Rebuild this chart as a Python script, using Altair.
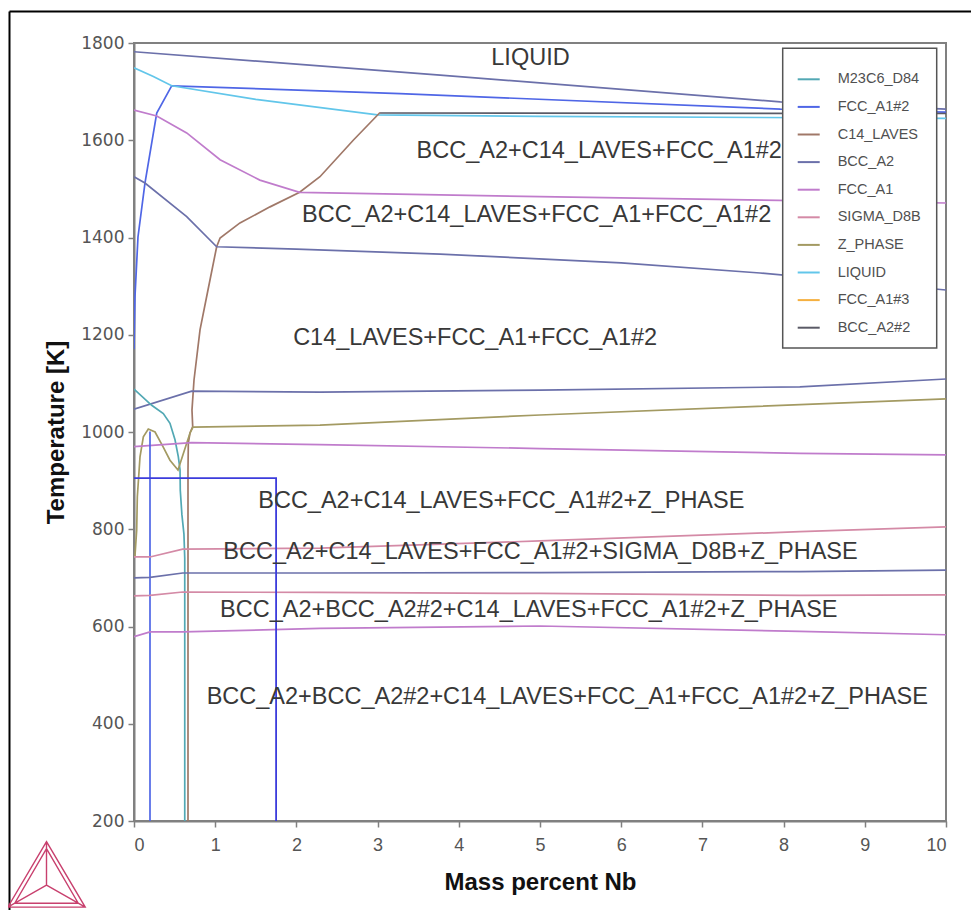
import altair as alt
import pandas as pd

# ---------------- data ----------------
PHASES = ["M23C6_D84", "FCC_A1#2", "C14_LAVES", "BCC_A2", "FCC_A1",
          "SIGMA_D8B", "Z_PHASE", "LIQUID", "FCC_A1#3", "BCC_A2#2"]
COLORS = ["#52a8b4", "#4f66e6", "#a07868", "#6b70aa", "#c07ccc",
          "#d48aa6", "#a39a62", "#62c6ea", "#f5b040", "#5a5a66"]

TOP_X = [0, 3.77, 7.96, 10]
TOP_T = [1782, 1734, 1679, 1664]

FCC2_TOP_X = [0.464, 3.276, 7.96, 10]
FCC2_TOP_T = [1712, 1696, 1664, 1658]

FCC2_LEFT_X = [0.464, 0.28, 0.135, 0.049, 0.012, 0]
FCC2_LEFT_T = [1712, 1656, 1512, 1401, 1278, 1170]

LIQ_X = [0, 0.238, 0.464, 1.5, 3.0, 5, 10]
LIQ_T = [1749, 1731, 1712, 1684, 1652, 1649, 1645]

BCC2_X = [3.03, 10]
BCC2_T = [1656, 1655]

C14_X = [3.03, 2.70, 2.29, 2.04, 1.675, 1.305, 1.06, 1.018, 0.911, 0.813,
         0.739, 0.714, 0.723, 0.69, 0.669, 0.665, 0.665]
C14_T = [1657, 1600, 1525, 1493, 1463, 1430, 1399, 1381, 1292, 1210,
         1107, 1045, 1011, 998, 977, 922, 200]

FCC1_UP_X = [0, 0.28, 0.649, 1.06, 1.55, 2.04, 5, 10]
FCC1_UP_T = [1662, 1650, 1615, 1560, 1518, 1493, 1484, 1471]

BCC_UP_X = [0, 0.135, 0.649, 1.018, 2, 3.77, 6, 7.71, 10]
BCC_UP_T = [1525, 1512, 1443, 1381, 1376, 1366, 1348, 1327, 1292]

BCC_MID_X = [0, 0.71, 2.29, 5, 8.2, 10]
BCC_MID_T = [1047, 1084, 1082, 1086, 1093, 1109]

M23_X = [0, 0.218, 0.361, 0.443, 0.505, 0.546, 0.567, 0.57, 0.59, 0.615, 0.625, 0.625]
M23_T = [1088, 1055, 1038, 1018, 984, 949, 922, 880, 830, 790, 740, 200]

Z_X = [0.012, 0.033, 0.041, 0.074, 0.115, 0.176, 0.259, 0.357, 0.443, 0.542,
       0.603, 0.69, 0.727, 2.29, 5, 10]
Z_T = [745, 798, 867, 949, 990, 1006, 1000, 970, 942, 922,
       953, 998, 1010, 1014, 1035, 1068]

FCC1_MID_X = [0, 0.71, 2.29, 5, 8.2, 10]
FCC1_MID_T = [970, 978, 974, 966, 956, 953]

FCC2_V_X = [0.197, 0.197]
FCC2_V_T = [1001, 200]

SIG_UP_X = [0, 0.197, 0.6, 2.29, 5, 8.2, 10]
SIG_UP_T = [743, 743, 759, 761, 776, 795, 805]

BCC_LOW_X = [0, 0.197, 0.6, 2.29, 5, 8.2, 10]
BCC_LOW_T = [700, 701, 710, 710, 711, 713, 716]

SIG_LOW_X = [0, 0.197, 0.6, 2.29, 5, 8.2, 10]
SIG_LOW_T = [663, 664, 671, 670, 668, 664, 665]

FCC1_LOW_X = [0, 0.197, 0.6, 2.29, 5, 8.2, 10]
FCC1_LOW_T = [579, 589, 589, 596, 601, 590, 583]

BOX_X = [0, 1.75, 1.75]
BOX_T = [905, 905, 200]

LABELS = ["LIQUID",
          "BCC_A2+C14_LAVES+FCC_A1#2",
          "BCC_A2+C14_LAVES+FCC_A1+FCC_A1#2",
          "C14_LAVES+FCC_A1+FCC_A1#2",
          "BCC_A2+C14_LAVES+FCC_A1#2+Z_PHASE",
          "BCC_A2+C14_LAVES+FCC_A1#2+SIGMA_D8B+Z_PHASE",
          "BCC_A2+BCC_A2#2+C14_LAVES+FCC_A1#2+Z_PHASE",
          "BCC_A2+BCC_A2#2+C14_LAVES+FCC_A1+FCC_A1#2+Z_PHASE"]
LABEL_X = [4.40, 3.48, 2.07, 1.96, 1.53, 1.10, 1.06, 0.895]
LABEL_T = [1769, 1577, 1446, 1193, 858, 753, 634, 454]

CURVES = [
    ("top", "BCC_A2", TOP_X, TOP_T),
    ("fcc2top", "FCC_A1#2", FCC2_TOP_X, FCC2_TOP_T),
    ("fcc2left", "FCC_A1#2", FCC2_LEFT_X, FCC2_LEFT_T),
    ("liq", "LIQUID", LIQ_X, LIQ_T),
    ("bcc2", "BCC_A2#2", BCC2_X, BCC2_T),
    ("c14", "C14_LAVES", C14_X, C14_T),
    ("fcc1up", "FCC_A1", FCC1_UP_X, FCC1_UP_T),
    ("bccup", "BCC_A2", BCC_UP_X, BCC_UP_T),
    ("bccmid", "BCC_A2", BCC_MID_X, BCC_MID_T),
    ("m23", "M23C6_D84", M23_X, M23_T),
    ("z", "Z_PHASE", Z_X, Z_T),
    ("fcc1mid", "FCC_A1", FCC1_MID_X, FCC1_MID_T),
    ("fcc2v", "FCC_A1#2", FCC2_V_X, FCC2_V_T),
    ("sigup", "SIGMA_D8B", SIG_UP_X, SIG_UP_T),
    ("bcclow", "BCC_A2", BCC_LOW_X, BCC_LOW_T),
    ("siglow", "SIGMA_D8B", SIG_LOW_X, SIG_LOW_T),
    ("fcc1low", "FCC_A1", FCC1_LOW_X, FCC1_LOW_T),
]

rows = []
for name, phase, xs, ts in CURVES:
    for i, (xv, tv) in enumerate(zip(xs, ts)):
        rows.append({"seg": name, "phase": phase, "i": i, "x": xv, "T": tv})
df = pd.DataFrame(rows)
box_df = pd.DataFrame({"i": range(len(BOX_X)), "x": BOX_X, "T": BOX_T})
lab_df = pd.DataFrame({"label": LABELS, "x": LABEL_X, "T": LABEL_T})
one = pd.DataFrame({"k": [0]})

FONT = "Liberation Sans"

xenc = alt.X("x:Q", scale=alt.Scale(domain=[0, 10], nice=False, zero=False),
             axis=alt.Axis(values=list(range(11)), format="d", title="Mass percent Nb",
                           grid=False, domainColor="#808080", domainWidth=2,
                           tickColor="#808080", tickWidth=1.5, tickSize=6,
                           labelColor="#555555", labelFont=FONT, labelFontSize=18,
                           labelPadding=9, titleFont=FONT, titleFontSize=24,
                           titleFontWeight="bold", titleColor="#111111", titlePadding=16))
yenc = alt.Y("T:Q", scale=alt.Scale(domain=[200, 1800], nice=False, zero=False),
             axis=alt.Axis(values=list(range(200, 1801, 200)), format="d",
                           title="Temperature [K]", grid=False,
                           domainColor="#808080", domainWidth=2, tickColor="#808080",
                           tickWidth=1.5, tickSize=6, labelColor="#555555",
                           labelFont="DejaVu Sans", labelFontSize=17, labelPadding=4,
                           titleFont=FONT, titleFontSize=24, titleFontWeight="bold",
                           titleColor="#111111", titlePadding=12))

lines = alt.Chart(df).mark_line(strokeWidth=1.7, clip=True).encode(
    x=xenc, y=yenc,
    color=alt.Color("phase:N", scale=alt.Scale(domain=PHASES, range=COLORS),
                    legend=alt.Legend(title=None, orient="none", legendX=662.7, legendY=24.3,
                                      symbolType="stroke", symbolSize=484,
                                      symbolStrokeWidth=2, labelFont=FONT,
                                      labelFontSize=14.5, labelColor="#505050",
                                      labelOffset=17, rowPadding=8.6, padding=0)),
    detail="seg:N",
    order="i:Q",
)

box = alt.Chart(box_df).mark_line(strokeWidth=1.8, color="#3c3cdc", clip=True).encode(
    x="x:Q", y="T:Q", order="i:Q")

labels = alt.Chart(lab_df).mark_text(align="left", baseline="middle", font=FONT,
                                     fontSize=23.5, color="#383838").encode(
    x="x:Q", y="T:Q", text="label:N")

legend_box = alt.Chart(one).mark_rect(fill="white", stroke="#555555", strokeWidth=1.5).encode(
    x=alt.value(648.7), x2=alt.value(802.7), y=alt.value(5.3), y2=alt.value(305))

frame_left = alt.Chart(one).mark_rule(color="black", strokeWidth=2).encode(
    x=alt.value(-124.5), y=alt.value(-31.5), y2=alt.value(867))
frame_top = alt.Chart(one).mark_rule(color="black", strokeWidth=2).encode(
    x=alt.value(-124.5), x2=alt.value(837), y=alt.value(-31.5))

LOGO = ("M0,-0.86L1,0.83L-1,0.83Z M0,-0.68L0.82,0.73L-0.82,0.73Z "
        "M0,-0.86L0,0.26 M-1,0.83L0,0.26 M1,0.83L0,0.26")
logo = alt.Chart(one).mark_point(shape=LOGO, size=6000, filled=False, stroke="#c8406e",
                                 strokeWidth=1.4, opacity=1).encode(
    x=alt.value(-87.5), y=alt.value(832))

chart = alt.layer(lines, box, labels, legend_box, frame_left, frame_top, logo).properties(
    width=812, height=778,
    autosize=alt.AutoSizeParams(type="none"),
    padding={"left": 126, "top": 35, "right": 25, "bottom": 89},
    background="white",
).configure_view(stroke="#808080", strokeWidth=2)

chart.save("out.html", embed_options={"renderer": "svg", "actions": False})
